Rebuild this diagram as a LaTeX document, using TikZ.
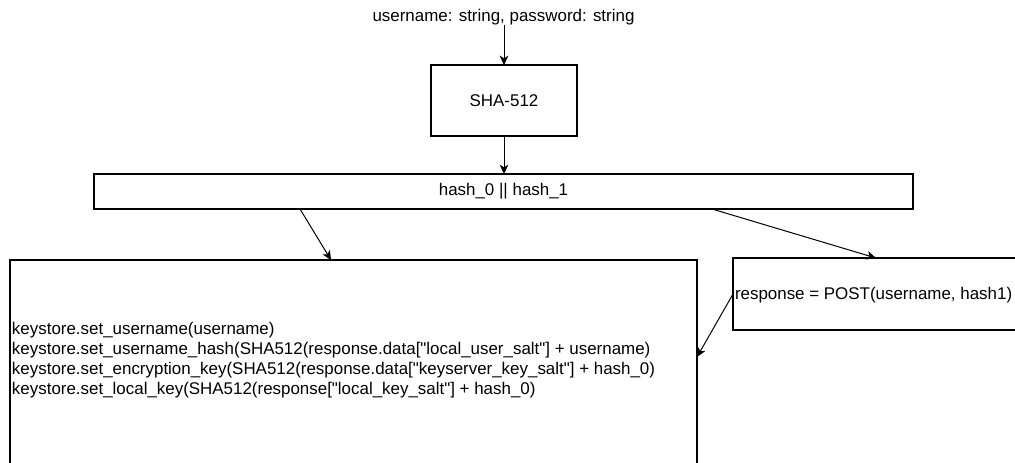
\documentclass[tikz,border=0pt]{standalone}
\usepackage{fontspec}
\setmainfont{Liberation Sans}
\newfontfamily\lsans{Liberation Sans}
\usetikzlibrary{arrows.meta,calc}
\begin{document}
\begin{tikzpicture}[x=0.75pt,y=-0.75pt,
  box/.style={draw=black,line width=1.5pt,inner sep=0pt,outer sep=0pt,rectangle,fill=white},
  lbl/.style={inner sep=0pt,outer sep=0pt,font=\lsans\fontsize{12.7pt}{15pt}\selectfont},
  conn/.style={draw=black,line width=0.75pt,-{Stealth[length=7pt,width=6.5pt,inset=2pt]}}]
\useasboundingbox (0,0) rectangle (1015,462);
\fill[white] (0,0) rectangle (1015,462);
\clip (0,0) rectangle (1015,462);
% boxes
\node[box,minimum width=109.5pt,minimum height=53.25pt] (sha) at (504,100.5) {};
\node[lbl] (shatext) at (504,100.5) {SHA-512};
\node[box,minimum width=614.25pt,minimum height=26.25pt] (hash) at (503.5,191.5) {};
\node[lbl] (hashtext) at (503.5,191.5) {hash\_0 || hash\_1};
\node[box,minimum width=515.25pt,minimum height=195pt] (ks) at (353.5,390) {};
\node[box,minimum width=260.25pt,minimum height=54pt] (resp) at (906.5,294) {};
\node[lbl,anchor=west] (resptext) at (735,295) {response = POST(username, hash1)};
\node[lbl,anchor=west,align=left] (kstext) at (12,360.5) {keystore.set\_username(username)\\
keystore.set\_username\_hash(SHA512(response.data["local\_user\_salt"] + username)\\
keystore.set\_encryption\_key(SHA512(response.data["keyserver\_key\_salt"] + hash\_0)\\
keystore.set\_local\_key(SHA512(response["local\_key\_salt"] + hash\_0)};
\node[lbl] (input) at (503.5,17) {username: string, password: string};
% connectors
\draw[conn] (input.south -| sha.north) -- (sha.north);
\draw[conn] (sha.south) -- (sha.south |- hash.north);
\draw[conn] ($(hash.south west)+(206,0)$) -- ($(ks.north west)+(321,0)$);
\draw[conn] ($(hash.south west)+(618,0)$) -- ($(resp.north west)+(143,0)$);
\draw[conn] (resp.west) -- ($(ks.north east)+(0,97)$);
\end{tikzpicture}
\end{document}
